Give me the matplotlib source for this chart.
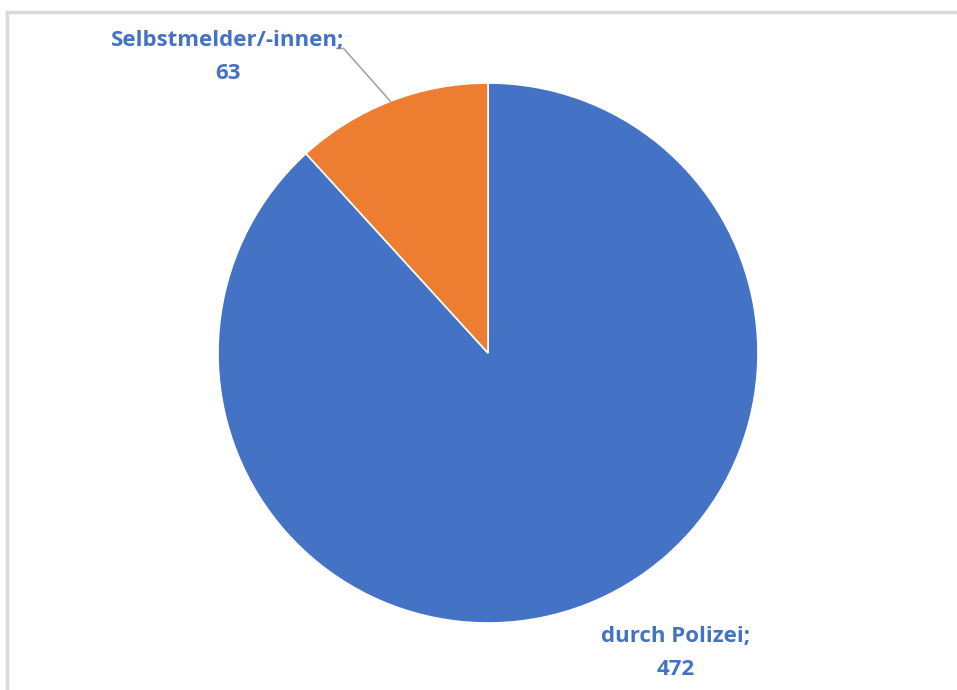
import matplotlib.pyplot as plt
from matplotlib.lines import Line2D
import numpy as np

# counts by source of the report
categories = ["durch Polizei", "Selbstmelder/-innen"]
values = [472, 63]
colors = ["#4472C4", "#ED7D31"]
label_color = "#4472C4"

fig = plt.figure(figsize=(9.57, 6.90), dpi=100)

# thin grey frame (top and left edge only visible)
fig.add_artist(Line2D([7 / 957, 1.0], [1 - 12 / 690, 1 - 12 / 690], color="#d9d9d9", lw=2.5))
fig.add_artist(Line2D([7 / 957, 7 / 957], [0.0, 1 - 12 / 690], color="#d9d9d9", lw=2.5))

# pie centred at (488, 353) px with radius 270 px
ax = fig.add_axes([218 / 957, 67 / 690, 540 / 957, 540 / 690])
wedges, _ = ax.pie(values, colors=colors, startangle=90, counterclock=False,
                   wedgeprops=dict(edgecolor="white", linewidth=1.2))
ax.set_xlim(-1, 1)
ax.set_ylim(-1, 1)
ax.set_aspect("equal")
ax.set_clip_on(False)
ax.axis("off")

font = dict(family=["Open Sans", "DejaVu Sans"], fontsize=16, fontweight="bold", color=label_color)

# label for the small slice with a leader line to the arc midpoint
w = wedges[1]
mid = np.deg2rad((w.theta1 + w.theta2) / 2)
ax.plot([np.cos(mid), -0.535, -0.56], [np.sin(mid), 1.128, 1.128], color="#a6a6a6", lw=1.2, clip_on=False)
ax.text(-0.963, 1.095, f"{categories[1]};\n{values[1]}", ha="center", va="center",
        linespacing=1.75, clip_on=False, **font)

# label for the big slice, outside the lower right
ax.text(0.695, -1.112, f"{categories[0]};\n{values[0]}", ha="center", va="center",
        linespacing=1.75, clip_on=False, **font)

fig.savefig("out.png", dpi=100)
